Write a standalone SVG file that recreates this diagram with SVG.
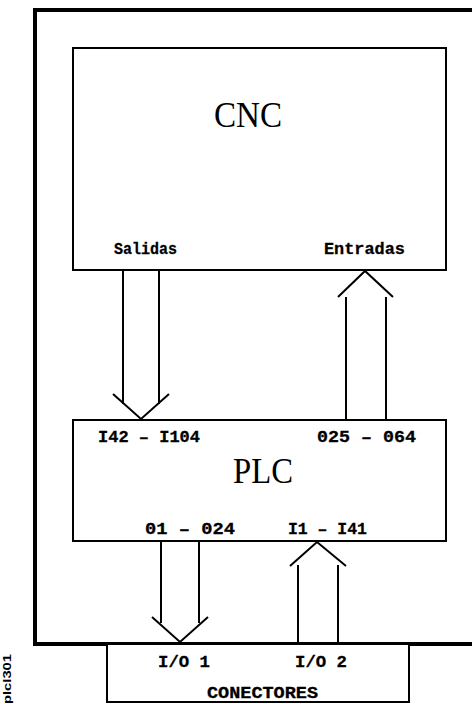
<svg xmlns="http://www.w3.org/2000/svg" width="472" height="704" viewBox="0 0 472 704">
<style>
.box{fill:#fff;stroke:#000;stroke-width:2}
.frame{fill:none;stroke:#000;stroke-width:4}
.ln{fill:none;stroke:#000;stroke-width:2}
.big{font-family:"Liberation Serif",serif;font-size:36px;fill:#000}
.lbl{font-family:"Liberation Mono",monospace;font-weight:bold;font-size:17px;fill:#000;stroke:#000;stroke-width:0.3}
.tag{font-family:"Liberation Sans",sans-serif;font-weight:bold;font-size:11px;fill:#000}
</style>
<rect width="472" height="704" fill="#fff"/>
<g id="frame">
<path class="frame" d="M474,10 H35 V644 H474"/>
</g>
<g id="cnc">
<rect class="box" x="73" y="48" width="373" height="222"/>
<text class="big" x="214" y="127" textLength="68" lengthAdjust="spacingAndGlyphs">CNC</text>
<text class="lbl" x="114" y="254" textLength="63" lengthAdjust="spacingAndGlyphs">Salidas</text>
<text class="lbl" x="324" y="254" textLength="81" lengthAdjust="spacingAndGlyphs">Entradas</text>
</g>
<g id="plc">
<rect class="box" x="73" y="420" width="373" height="121"/>
<text class="big" x="233" y="483" textLength="60" lengthAdjust="spacingAndGlyphs">PLC</text>
<text class="lbl" x="98" y="442" textLength="102" lengthAdjust="spacingAndGlyphs">I42 – I104</text>
<text class="lbl" x="317" y="442" textLength="99" lengthAdjust="spacingAndGlyphs">025 – 064</text>
<text class="lbl" x="145" y="534" textLength="90" lengthAdjust="spacingAndGlyphs">01 – 024</text>
<text class="lbl" x="288" y="534" textLength="79" lengthAdjust="spacingAndGlyphs">I1 – I41</text>
</g>
<g id="conectores">
<path class="box" d="M107,645 V702 H409 V645"/>
<text class="lbl" x="158" y="667" textLength="52" lengthAdjust="spacingAndGlyphs">I/O 1</text>
<text class="lbl" x="295" y="667" textLength="52" lengthAdjust="spacingAndGlyphs">I/O 2</text>
<text class="lbl" x="207" y="698" textLength="111" lengthAdjust="spacingAndGlyphs">CONECTORES</text>
</g>
<g id="connectors">
<path class="ln" d="M123,271 V404 M159,271 V404 M113,394 L141,419 L169,394"/>
<path class="ln" d="M346,419 V297 M386,419 V297 M338,297 L365,271 L393,297"/>
<path class="ln" d="M161,542 V623 M199,542 V623 M152,617 L180,642 L208,617"/>
<path class="ln" d="M298,642 V565 M338,642 V565 M290,566 L317,542 L346,566"/>
</g>
<text class="tag" transform="translate(11,704) rotate(-90)" textLength="50" lengthAdjust="spacingAndGlyphs">plcl301</text>
</svg>
